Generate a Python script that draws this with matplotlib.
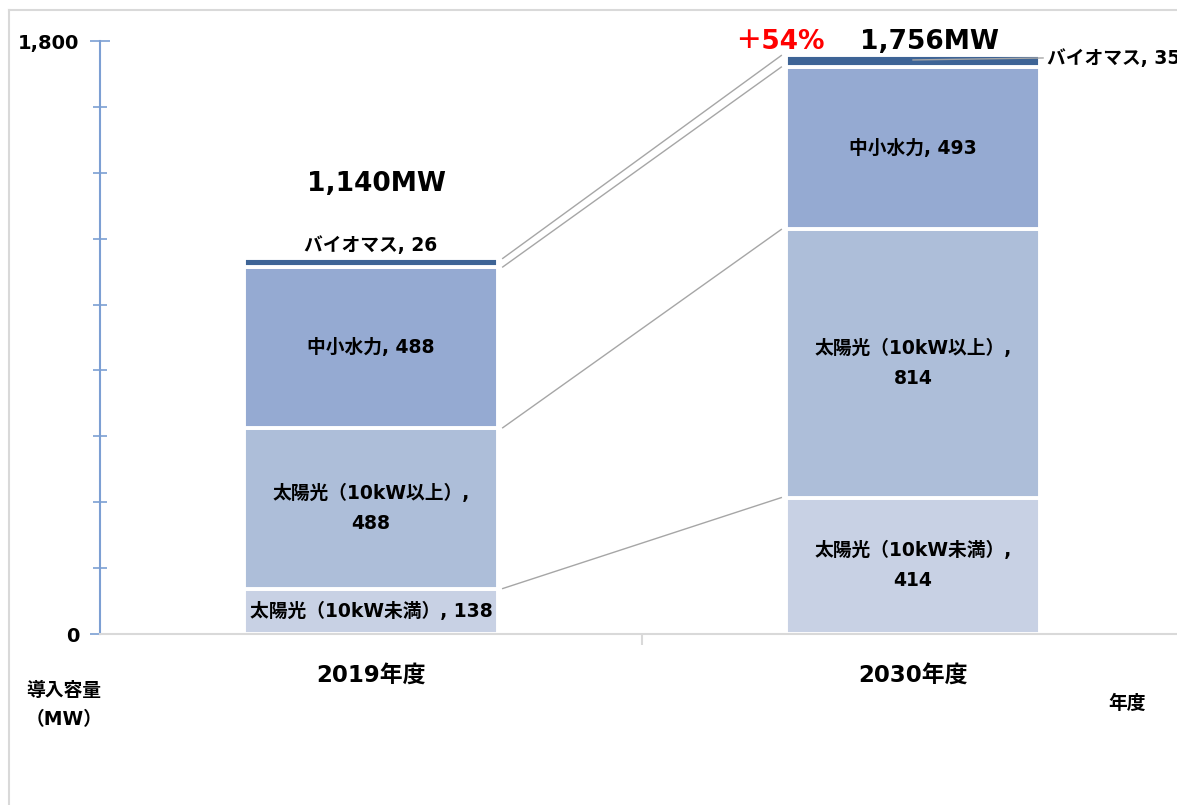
import numpy as np
import matplotlib.pyplot as plt
from matplotlib.lines import Line2D

# Latin glyphs from DejaVu (wide, Verdana-like), kana/kanji fall back to Noto CJK
plt.rcParams['font.family'] = ['DejaVu Sans', 'Noto Sans CJK JP']
plt.rcParams['font.weight'] = 'bold'

# ── DATA ────────────────────────────────────────────────
years = ['2019年度', '2030年度']
solar_small = [138, 414]
solar_large = [488, 814]
hydro = [488, 493]
biomass = [26, 35]
totals = ['1,140MW', '1,756MW']
growth = '＋54%'

series = [solar_small, solar_large, hydro, biomass]
names = ['太陽光（10kW未満）', '太陽光（10kW以上）', '中小水力', 'バイオマス']
colors = ['#c8d1e4', '#adbed9', '#95aad2', '#3e6496']

# ── FIGURE ──────────────────────────────────────────────
W, H = 1177, 805
fig = plt.figure(figsize=(W / 100, H / 100), dpi=100)
ax = fig.add_axes([100 / W, (H - 634) / H, 1084 / W, 593 / H])

x = np.arange(len(years))
bw = 0.47
bottoms = np.zeros(len(years))
tops = []
for vals, col in zip(series, colors):
    ax.bar(x, vals, bw, bottom=bottoms, color=col, edgecolor='white',
           linewidth=2.8, zorder=2)
    bottoms = bottoms + np.array(vals)
    tops.append(bottoms.copy())

# connector lines between bars
for t in tops:
    ax.plot([x[0] + bw / 2 + 0.008, x[1] - bw / 2 - 0.008], [t[0], t[1]],
            color='#a6a6a6', lw=1, zorder=1)

# segment labels
fs = 13.5
ax.text(x[0], solar_small[0] / 2, f'{names[0]}, {solar_small[0]}',
        ha='center', va='center', fontsize=fs)
ax.text(x[1], solar_small[1] / 2, f'{names[0]},\n{solar_small[1]}',
        ha='center', va='center', fontsize=fs, linespacing=1.75)
for i in range(2):
    ax.text(x[i], solar_small[i] + solar_large[i] / 2, f'{names[1]},\n{solar_large[i]}',
            ha='center', va='center', fontsize=fs, linespacing=1.75)
    ax.text(x[i], solar_small[i] + solar_large[i] + hydro[i] / 2, f'{names[2]}, {hydro[i]}',
            ha='center', va='center', fontsize=fs)

ax.text(x[0], tops[3][0] + 10, f'{names[3]}, {biomass[0]}',
        ha='center', va='bottom', fontsize=fs)
b30 = tops[2][1] + biomass[1] / 2
ax.plot([x[1], x[1] + bw / 2 + 0.005], [b30 + 4, b30 + 10], color='#a6a6a6', lw=1,
        zorder=3, clip_on=False)
ax.text(x[1] + bw / 2 + 0.013, b30 + 8, f'{names[3]}, {biomass[1]}',
        ha='left', va='center', fontsize=fs, clip_on=False)

# totals
ax.text(x[0] + 0.01, tops[3][0] + 225, totals[0], ha='center', va='center', fontsize=19)
ax.text(x[1] + 0.03, tops[3][1] + 42, totals[1], ha='center', va='center', fontsize=19)
ax.text(x[1] - 0.245, tops[3][1] + 42, growth, ha='center', va='center',
        fontsize=19, color='#ff0000')

# axes styling
ax.set_xlim(-0.5, 1.5)
ax.set_ylim(0, 1800)
ax.set_yticks([0, 1800])
ax.set_yticklabels(['0', '1,800'], fontsize=14)
ax.set_yticks(np.arange(0, 1801, 200), minor=True)
ax.tick_params(axis='y', which='major', direction='inout', length=14, width=1.2,
               color='#7c9fd3', pad=8)
ax.tick_params(axis='y', which='minor', direction='inout', length=10, width=1.2,
               color='#7c9fd3')
ax.set_xticks([0.5])
ax.set_xticklabels([''])
ax.tick_params(axis='x', direction='out', length=8, width=1.5, color='#d9d9d9')
for s in ['top', 'right']:
    ax.spines[s].set_visible(False)
ax.spines['left'].set_color('#7c9fd3')
ax.spines['left'].set_linewidth(1.5)
ax.spines['bottom'].set_color('#d9d9d9')
ax.spines['bottom'].set_linewidth(1.5)

for i, lab in enumerate(years):
    ax.text(x[i], -125, lab, ha='center', va='center', fontsize=16.5)

fig.text(64 / W, 1 - 690 / H, '導入容量', ha='center', va='center', fontsize=13.5)
fig.text(64 / W, 1 - 720 / H, '（MW）', ha='center', va='center', fontsize=13.5)
fig.text(1127 / W, 1 - 703 / H, '年度', ha='center', va='center', fontsize=13.5)

# chart-area border
fig.add_artist(Line2D([9 / W, 9 / W], [0, 1 - 10 / H], color='#d9d9d9', lw=1.5))
fig.add_artist(Line2D([9 / W, 1], [1 - 10 / H, 1 - 10 / H], color='#d9d9d9', lw=1.5))

fig.savefig('out.png', dpi=100)
